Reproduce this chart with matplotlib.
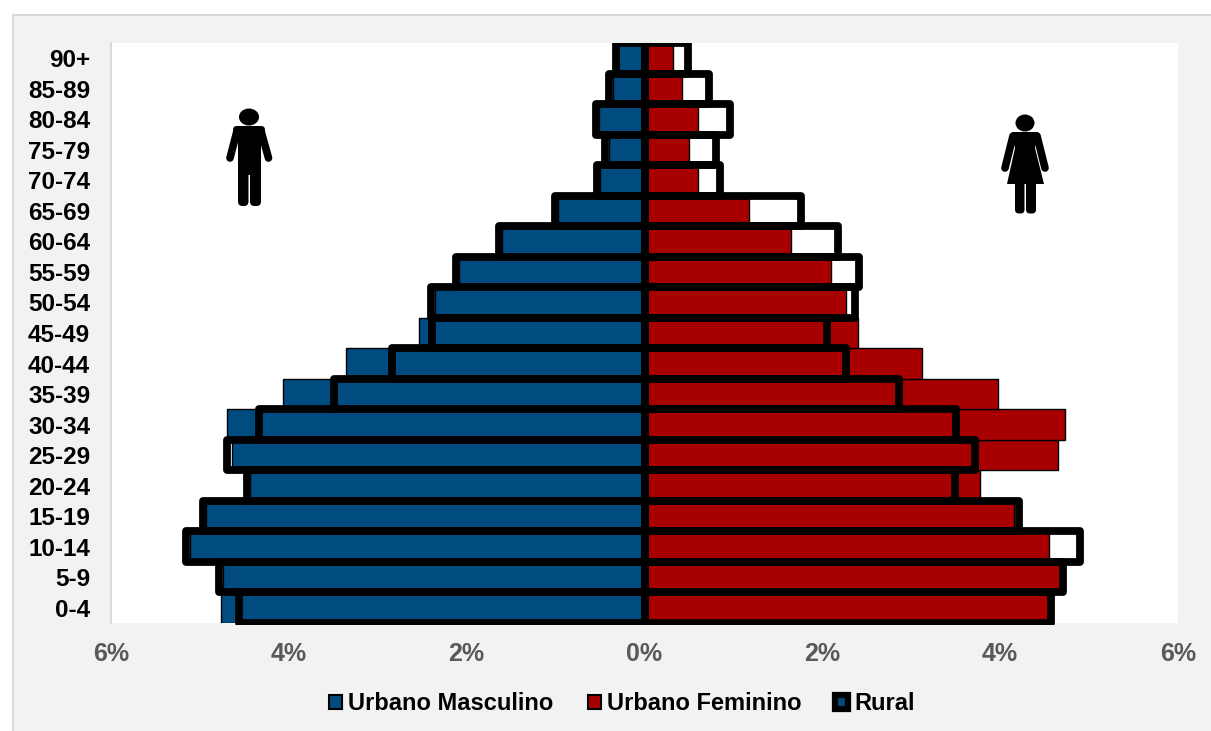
import matplotlib
matplotlib.use('Agg')
import matplotlib.pyplot as plt
import numpy as np
from matplotlib.patches import Ellipse, FancyBboxPatch, Patch, Polygon, Rectangle

W, H = 1211, 731

AGE_GROUPS = ['0-4', '5-9', '10-14', '15-19', '20-24', '25-29', '30-34', '35-39', '40-44', '45-49',
              '50-54', '55-59', '60-64', '65-69', '70-74', '75-79', '80-84', '85-89', '90+']
URBAN_MALE = [4.76, 4.74, 5.11, 4.93, 4.44, 4.64, 4.70, 4.07, 3.36, 2.54,
              2.36, 2.09, 1.60, 0.97, 0.50, 0.40, 0.51, 0.35, 0.30]
URBAN_FEMALE = [4.54, 4.67, 4.55, 4.15, 3.77, 4.65, 4.73, 3.98, 3.12, 2.40,
                2.27, 2.10, 1.65, 1.18, 0.60, 0.50, 0.60, 0.42, 0.32]
RURAL_MALE = [4.56, 4.78, 5.16, 4.97, 4.47, 4.69, 4.33, 3.49, 2.84, 2.39,
              2.40, 2.12, 1.64, 1.01, 0.53, 0.44, 0.55, 0.40, 0.32]
RURAL_FEMALE = [4.57, 4.71, 4.90, 4.21, 3.49, 3.72, 3.50, 2.86, 2.27, 2.05,
                2.37, 2.41, 2.18, 1.76, 0.85, 0.80, 0.96, 0.73, 0.49]
X_TICKS = [-6, -4, -2, 0, 2, 4, 6]

BLUE = '#004C80'
RED = '#A80000'
plt.rcParams['font.family'] = ['Liberation Sans', 'DejaVu Sans']

fig = plt.figure(figsize=(W / 100, H / 100), dpi=100, facecolor='white')

# chart background and icons live in a pixel-sized overlay
bg = fig.add_axes([0, 0, 1, 1], zorder=0)
bg.set_xlim(0, W)
bg.set_ylim(H, 0)
bg.axis('off')
bg.add_patch(Rectangle((12.5, 14.5), W, H, fc='#F2F2F2', ec='#D9D9D9', lw=1.5))

ax = fig.add_axes([111 / W, 1 - 623 / H, (1178 - 111) / W, (623 - 43) / H], zorder=1)
y = np.arange(len(AGE_GROUPS))
male = -np.array(URBAN_MALE)
female = np.array(URBAN_FEMALE)
ax.barh(y, male, height=1, color=BLUE, edgecolor='black', linewidth=1, zorder=2)
ax.barh(y, female, height=1, color=RED, edgecolor='black', linewidth=1, zorder=2)

# rural outline may overrun the plot bottom by about 2px, not the top
clip = Rectangle((100, 43), 1090, 582, transform=bg.transData)
for vals in (-np.array(RURAL_MALE), np.array(RURAL_FEMALE)):
    bars = ax.barh(y, vals, height=1, facecolor='none', edgecolor='black', linewidth=5.6,
                   joinstyle='round', zorder=3)
    for b in bars:
        b.set_clip_path(clip)

ax.set_xlim(-6, 6)
ax.set_ylim(-0.5, len(AGE_GROUPS) - 0.5)
ax.set_yticks(y, AGE_GROUPS, fontsize=17.5, fontweight='bold', color='black')
ax.set_xticks(X_TICKS, [f'{abs(t)}%' for t in X_TICKS], fontsize=18, fontweight='bold', color='#595959')
ax.tick_params(axis='y', length=0, pad=15)
ax.tick_params(axis='x', length=0, pad=14)
for side in ('top', 'right', 'bottom'):
    ax.spines[side].set_visible(False)
ax.spines['left'].set_color('#D9D9D9')
ax.spines['left'].set_linewidth(1.5)

handles = [Patch(fc=BLUE, ec='black', lw=1.5, label='Urbano Masculino'),
           Patch(fc=RED, ec='black', lw=1.5, label='Urbano Feminino'),
           Patch(fc=BLUE, ec='black', lw=4.5, joinstyle='round', label='Rural')]
leg = fig.legend(handles=handles, ncol=3, loc='center', bbox_to_anchor=(622 / W, 1 - 704 / H),
                 frameon=False, handlelength=0.55, handleheight=0.55, handletextpad=0.25,
                 columnspacing=1.45, prop={'size': 17, 'weight': 'bold'})

ico = fig.add_axes([0, 0, 1, 1], zorder=2)
ico.set_xlim(0, W)
ico.set_ylim(H, 0)
ico.axis('off')
ico.patch.set_alpha(0)

# man icon
ico.add_patch(Ellipse((249, 117), 20, 17, fc='black', ec='none'))
ico.add_patch(FancyBboxPatch((233, 126), 32, 12, boxstyle='round,pad=0,rounding_size=4', fc='black', ec='none'))
ico.add_patch(Rectangle((238, 130), 23, 45, fc='black', ec='none'))
ico.add_patch(FancyBboxPatch((238, 165), 10.5, 41, boxstyle='round,pad=0,rounding_size=4.5', fc='black', ec='none'))
ico.add_patch(FancyBboxPatch((250, 165), 11, 41, boxstyle='round,pad=0,rounding_size=4.5', fc='black', ec='none'))
ico.plot([237, 230], [131, 158], color='black', lw=5.5, solid_capstyle='round')
ico.plot([261, 268.5], [131, 158], color='black', lw=5.5, solid_capstyle='round')

# woman icon
ico.add_patch(Ellipse((1025, 123), 19, 17, fc='black', ec='none'))
ico.add_patch(Polygon([[1012, 132], [1038, 132], [1035, 148], [1044, 184], [1007, 184], [1015, 148]],
                      closed=True, fc='black', ec='none'))
ico.plot([1013, 1005], [136, 168], color='black', lw=5.5, solid_capstyle='round')
ico.plot([1037, 1045], [136, 168], color='black', lw=5.5, solid_capstyle='round')
ico.add_patch(FancyBboxPatch((1015, 180), 9.5, 33.5, boxstyle='round,pad=0,rounding_size=4', fc='black', ec='none'))
ico.add_patch(FancyBboxPatch((1026, 180), 10, 33.5, boxstyle='round,pad=0,rounding_size=4', fc='black', ec='none'))

fig.savefig('out.png', dpi=100, facecolor=fig.get_facecolor())
